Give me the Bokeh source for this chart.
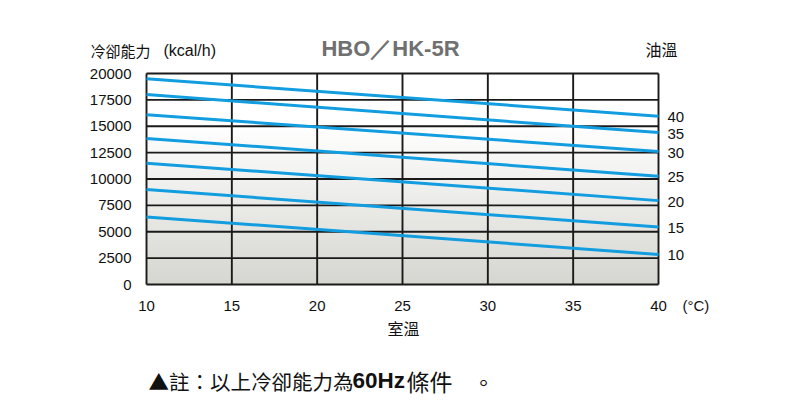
import numpy as np
from bokeh.plotting import figure
from bokeh.models import Range1d
from bokeh.core.properties import value
from bokeh.embed import file_html
from bokeh.resources import INLINE

# ---- data ----
room_temp = [10, 40]
oil_temps = [40, 35, 30, 25, 20, 15, 10]
capacity_at_10 = [19500, 18000, 16100, 13850, 11500, 9000, 6400]
capacity_at_40 = [15950, 14400, 12600, 10250, 7950, 5450, 2850]
x_ticks = [10, 15, 20, 25, 30, 35, 40]
y_ticks = [0, 2500, 5000, 7500, 10000, 12500, 15000, 17500, 20000]

W, H = 780, 400
# plot-area edges in canvas pixels
PL, PR, PT, PB = 146, 658, 73, 284
X0, X1 = x_ticks[0], x_ticks[-1]
Y0, Y1 = y_ticks[0], y_ticks[-1]
sx = (PR - PL) / (X1 - X0)
sy = (PB - PT) / (Y1 - Y0)

def X(px):
    return X0 + (px - PL) / sx

def Y(py):
    return Y0 + (PB - py) / sy

p = figure(width=W, height=H, output_backend="svg", toolbar_location=None,
           x_range=Range1d(X(0), X(W)), y_range=Range1d(Y(H), Y(0)),
           x_axis_location=None, y_axis_location=None, min_border=0)
p.outline_line_color = None
p.background_fill_color = "white"
p.border_fill_color = "white"
p.grid.visible = False

# gradient background of the plot area
N = 256
ys = np.linspace(0, 1, N)
top = np.array([255, 255, 255], float)
bot = np.array([214, 215, 209], float)
t = np.clip(ys / 0.75, 0, 1)[:, None]
cols = (bot * (1 - t) + top * t).astype(np.uint32)
img = np.empty((N, 1), dtype=np.uint32)
view = img.view(dtype=np.uint8).reshape((N, 1, 4))
view[:, 0, 0] = cols[:, 0]
view[:, 0, 1] = cols[:, 1]
view[:, 0, 2] = cols[:, 2]
view[:, 0, 3] = 255
p.image_rgba(image=[img], x=X0, y=Y0, dw=X1 - X0, dh=Y1 - Y0)

# grid
grid_color = "#1a1a1a"
p.segment(x0=x_ticks, y0=[Y0] * len(x_ticks), x1=x_ticks, y1=[Y1] * len(x_ticks),
          line_color=grid_color, line_width=1.9)
p.segment(x0=[X0] * len(y_ticks), y0=y_ticks, x1=[X1] * len(y_ticks), y1=y_ticks,
          line_color=grid_color, line_width=1.9)

# series
line_color = "#119ddf"
for a, b in zip(capacity_at_10, capacity_at_40):
    p.line(room_temp, [a, b], line_color=line_color, line_width=3)

FONT = value("Liberation Sans")
CJK = value("Noto Sans CJK TC")
INK = "#111111"

# tick labels
p.text(x=[X(131)] * len(y_ticks), y=y_ticks, text=[str(v) for v in y_ticks],
       text_align="right", text_baseline="middle", text_font=FONT,
       text_font_size="15px", text_color=INK)
p.text(x=x_ticks, y=[Y(305)] * len(x_ticks), text=[str(v) for v in x_ticks],
       text_align="center", text_baseline="middle", text_font=FONT,
       text_font_size="15px", text_color=INK)
# oil temperature labels at line ends
p.text(x=[X(667)] * len(oil_temps), y=capacity_at_40, text=[str(v) for v in oil_temps],
       text_align="left", text_baseline="middle", text_font=FONT,
       text_font_size="15px", text_color=INK, y_offset=1)

def lab(text, px, py, size, align="left", font=FONT, style="normal", color=INK):
    p.text(x=[X(px)], y=[Y(py)], text=[text], text_align=align, text_baseline="middle",
           text_font=font, text_font_size=size, text_font_style=style, text_color=color)

lab("冷卻能力", 90, 50, "15px", font=CJK)
lab("(kcal/h)", 163, 50, "16px")
lab("HBO／HK-5R", 390, 48, "22px", align="center", style="bold", color="#707070")
lab("油溫", 661, 48, "16px", align="center", font=CJK)
lab("(°C)", 682, 305, "15px")
lab("室溫", 403, 327, "16px", align="center", font=CJK)
lab("▲註：以上冷卻能力為", 148, 380, "20.5px", font=CJK)
lab("60Hz", 352, 380, "22.5px", style="bold")
lab("條件", 406, 380, "23px", font=CJK)
lab("。", 483, 380, "22px", align="center", font=CJK)

open("out.html", "w").write(file_html(p, INLINE))
